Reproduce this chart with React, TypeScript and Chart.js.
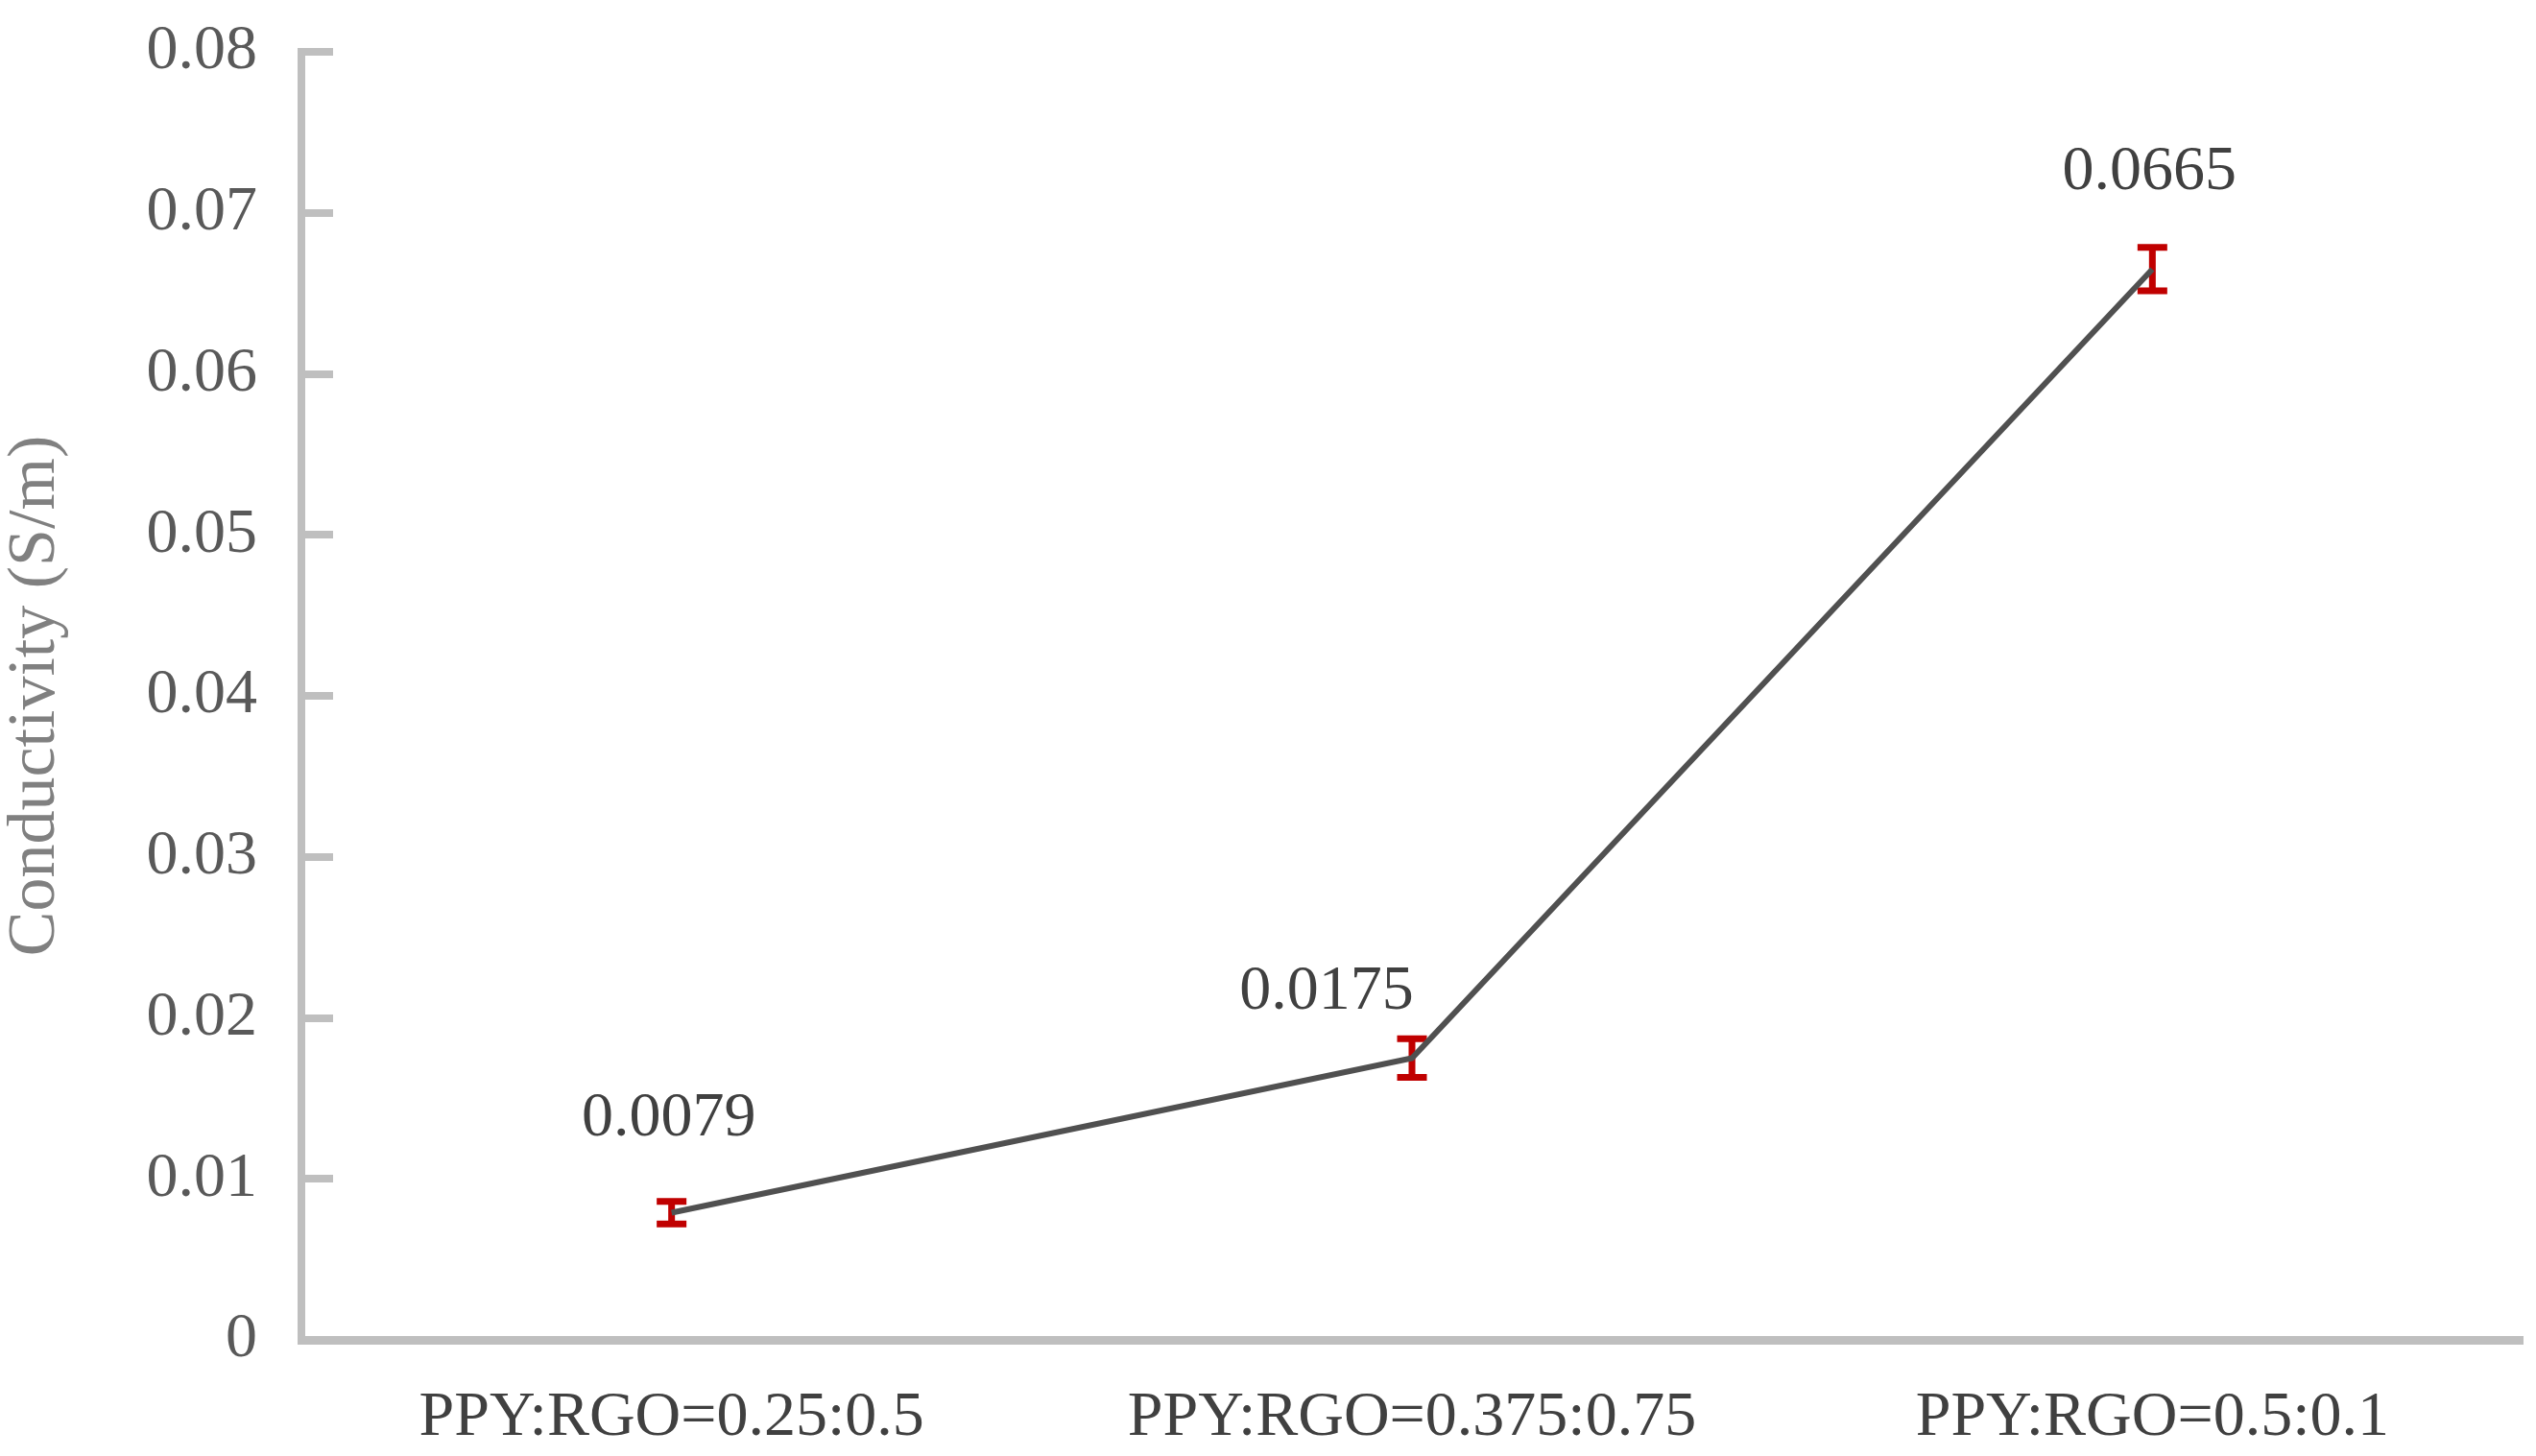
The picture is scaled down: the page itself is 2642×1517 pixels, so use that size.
import React, { useEffect, useRef } from "react";
import { Chart, registerables } from "chart.js";

Chart.register(...registerables);

const categories = ["PPY:RGO=0.25:0.5", "PPY:RGO=0.375:0.75", "PPY:RGO=0.5:0.1"];
const conductivity = [0.0079, 0.0175, 0.0665];
const errorValues = [0.0007, 0.0012, 0.00135];
const yMin = 0;
const yMax = 0.08;
const yStep = 0.01;
const yTitle = "Conductivity (S/m)";

const FONT = "'Liberation Serif', 'Times New Roman', serif";

const errorBarPlugin = {
  id: "errorBars",
  beforeDatasetsDraw(chart: any) {
    const meta = chart.getDatasetMeta(0);
    const yScale = chart.scales.y;
    const ctx = chart.ctx;
    ctx.save();
    ctx.strokeStyle = "#c00000";
    ctx.lineWidth = 7;
    ctx.lineCap = "butt";
    meta.data.forEach((pt: any, i: number) => {
      const v = conductivity[i];
      const e = errorValues[i];
      const x = pt.x;
      const yt = yScale.getPixelForValue(v + e);
      const yb = yScale.getPixelForValue(v - e);
      const half = 15.5;
      ctx.beginPath();
      ctx.moveTo(x, yt);
      ctx.lineTo(x, yb);
      ctx.moveTo(x - half, yt);
      ctx.lineTo(x + half, yt);
      ctx.moveTo(x - half, yb);
      ctx.lineTo(x + half, yb);
      ctx.stroke();
    });
    ctx.restore();
  },
};

const dataLabelPlugin = {
  id: "dataLabels",
  afterDatasetsDraw(chart: any, _args: any, opts: any) {
    const meta = chart.getDatasetMeta(0);
    const ctx = chart.ctx;
    const offsets = opts.offsets || [];
    ctx.save();
    ctx.fillStyle = opts.color;
    ctx.font = `${opts.size}px ${FONT}`;
    ctx.textAlign = "center";
    ctx.textBaseline = "middle";
    meta.data.forEach((pt: any, i: number) => {
      const [dx, dy] = offsets[i] || [0, -90];
      ctx.fillText(conductivity[i].toFixed(4), pt.x + dx, pt.y + dy);
    });
    ctx.restore();
  },
};

export default function App() {
  const canvasRef = useRef<HTMLCanvasElement | null>(null);

  useEffect(() => {
    document.body.style.margin = "0";
    document.body.style.overflow = "hidden";
    const canvas = canvasRef.current;
    if (!canvas) return;
    const chart = new Chart(canvas, {
      type: "line",
      data: {
        labels: categories,
        datasets: [
          {
            data: conductivity,
            borderColor: "#505050",
            borderWidth: 6,
            pointRadius: 0,
            pointHoverRadius: 0,
            fill: false,
            tension: 0,
          },
        ],
      },
      options: {
        animation: false,
        responsive: true,
        maintainAspectRatio: false,
        devicePixelRatio: 1,
        events: [],
        layout: { padding: { top: 54, right: 14, bottom: 0, left: 0 } },
        plugins: {
          legend: { display: false },
          tooltip: { enabled: false },
          dataLabels: {
            color: "#404040",
            size: 66,
            offsets: [
              [-3, -98],
              [-89, -69],
              [-3, -101],
            ],
          },
        } as any,
        scales: {
          x: {
            type: "category",
            offset: true,
            grid: { display: false },
            border: { display: true, color: "#bfbfbf", width: 9 },
            ticks: {
              color: "#404040",
              font: { family: FONT, size: 66 },
              padding: 34,
              maxRotation: 0,
              minRotation: 0,
              autoSkip: false,
            },
            afterFit: (scale: any) => {
              scale.height = 121;
              scale.paddingLeft = 0;
              scale.paddingRight = 0;
            },
          },
          y: {
            min: yMin,
            max: yMax,
            grid: {
              drawOnChartArea: false,
              drawTicks: true,
              tickLength: -33,
              color: "#bfbfbf",
              lineWidth: 8,
            },
            border: { display: true, color: "#bfbfbf", width: 8 },
            ticks: {
              stepSize: yStep,
              color: "#595959",
              font: { family: FONT, size: 66 },
              padding: 79,
              callback: (v: any) => String(Number(Number(v).toFixed(2))),
            },
            title: {
              display: true,
              text: yTitle,
              color: "#808080",
              font: { family: FONT, size: 70, lineHeight: 1.0 },
              padding: { top: 3, bottom: 0 },
            },
            afterFit: (scale: any) => {
              scale.width = 314;
              scale.paddingTop = 0;
              scale.paddingBottom = 0;
            },
          },
        },
      },
      plugins: [errorBarPlugin, dataLabelPlugin],
    });
    return () => chart.destroy();
  }, []);

  return (
    <div style={{ width: "2642px", height: "1517px", position: "relative", background: "#ffffff" }}>
      <canvas ref={canvasRef} />
    </div>
  );
}
